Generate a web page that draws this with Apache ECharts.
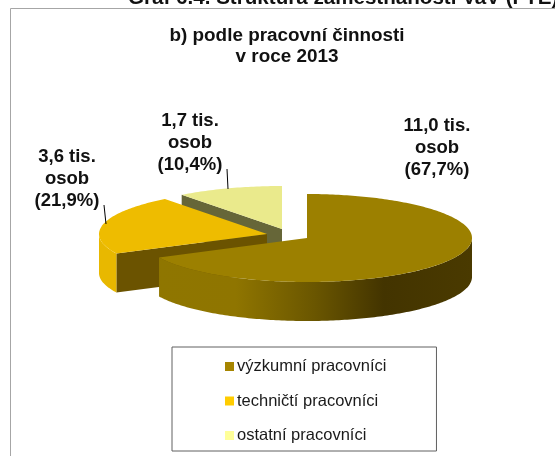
<!DOCTYPE html>
<html>
<head>
<meta charset="utf-8">
<style>
  html, body { margin: 0; padding: 0; background: #fff; overflow: hidden; }
  #main { width: 555px; height: 456px; }
</style>
<script src="https://cdn.jsdelivr.net/npm/echarts@6/dist/echarts.min.js"></script>
</head>
<body>
<div id="main"></div>
<script>
var categories = ['výzkumní pracovníci', 'techničtí pracovníci', 'ostatní pracovníci'];
var thousands = ['11,0', '3,6', '1,7'];
var shares = [67.7, 21.9, 10.4];
var shareLabels = ['67,7%', '21,9%', '10,4%'];

var legendColors = ['#a68500', '#ffcc00', '#ffff99'];
var topColors = ['#9c8000', '#eebc00', '#eaea8c'];
var cutColors = [null, '#6b5300', '#666638'];

// pie geometry, one exploded centre per slice
var centers = [[307, 238], [267, 234], [282, 229]];
var radii = [[165, 44], [168, 44], [165, 43]];
var depth = 39;
var labelPos = [[437, 148], [67, 179], [190, 143]];
var leaders = [null, [[104, 205], [106, 224]], [[227, 169], [228, 189]]];

var font = 'Liberation Sans';

function pointAt(i, deg, dy) {
    var t = deg / 180 * Math.PI;
    return [
        centers[i][0] + radii[i][0] * Math.sin(t),
        centers[i][1] - radii[i][1] * Math.cos(t) + (dy || 0)
    ];
}

function sliceAngles(i) {
    var before = 0;
    for (var k = 0; k < i; k++) before += shares[k];
    return [before * 3.6, (before + shares[i]) * 3.6];
}

function arc(i, from, to, dy) {
    var pts = [];
    var n = Math.max(2, Math.ceil(Math.abs(to - from)));
    for (var k = 0; k <= n; k++) pts.push(pointAt(i, from + (to - from) * k / n, dy));
    return pts;
}

function wallFill(i) {
    if (i === 0) {
        return new echarts.graphic.LinearGradient(157, 0, 472, 0, [
            { offset: 0, color: '#8f7600' },
            { offset: 0.25, color: '#8f7500' },
            { offset: 0.5, color: '#6a5600' },
            { offset: 0.72, color: '#433400' },
            { offset: 1, color: '#4a3a00' }
        ], true);
    }
    return '#e8b800';
}

function renderSlice(params, api) {
    var i = api.value(0);
    var a = sliceAngles(i);
    var children = [];

    // the cut face is visible only where the slice lies behind its edge
    if (cutColors[i]) {
        var edge = a[0];
        children.push({
            type: 'polygon', silent: true,
            shape: { points: [
                [centers[i][0], centers[i][1]],
                pointAt(i, edge),
                pointAt(i, edge, depth),
                [centers[i][0], centers[i][1] + depth]
            ] },
            style: { fill: cutColors[i] }
        });
    }

    // front outer wall
    var from = Math.max(a[0], 90);
    var to = Math.min(a[1], 270);
    if (to > from) {
        children.push({
            type: 'polygon', silent: true,
            shape: { points: arc(i, from, to, 0).concat(arc(i, to, from, depth)) },
            style: { fill: wallFill(i) }
        });
    }

    // top face
    children.push({
        type: 'polygon', silent: true,
        shape: { points: [centers[i]].concat(arc(i, a[0], a[1], 0)) },
        style: { fill: topColors[i] }
    });

    if (leaders[i]) {
        children.push({
            type: 'line', silent: true,
            shape: { x1: leaders[i][0][0], y1: leaders[i][0][1], x2: leaders[i][1][0], y2: leaders[i][1][1] },
            style: { stroke: '#000', lineWidth: 1 }
        });
    }

    children.push({
        type: 'text', silent: true,
        x: labelPos[i][0], y: labelPos[i][1],
        style: {
            text: thousands[i] + ' tis.\nosob\n(' + shareLabels[i] + ')',
            font: 'bold 18.5px "' + font + '"',
            lineHeight: 22,
            fill: '#111',
            align: 'center',
            verticalAlign: 'middle'
        }
    });

    return { type: 'group', children: children };
}

// slices are painted back to front
var order = [2, 1, 0];
var series = order.map(function (i) {
    return {
        name: categories[i],
        type: 'custom',
        coordinateSystem: 'none',
        silent: true,
        animation: false,
        itemStyle: { color: legendColors[i] },
        data: [[i, shares[i]]],
        renderItem: renderSlice
    };
});

var myChart = echarts.init(document.getElementById('main'), null, { renderer: 'canvas' });
myChart.setOption({
    backgroundColor: '#fff',
    animation: false,
    title: [{
        text: 'b) podle pracovní činnosti\nv roce 2013',
        left: 282,
        top: 20,
        textAlign: 'center',
        textStyle: { fontFamily: font, fontSize: 18.9, fontWeight: 'bold', color: '#111', lineHeight: 21 }
    }, {
        text: 'Graf 6.4. Struktura zaměstnanosti VaV (FTE)',
        left: 123,
        top: -17,
        textStyle: { fontFamily: font, fontSize: 20.6, fontWeight: 'bold', color: '#111' }
    }],
    legend: {
        data: categories,
        orient: 'vertical',
        left: 172,
        top: 347,
        padding: [11, 50, 7, 53],
        itemWidth: 9,
        itemHeight: 9,
        itemGap: 17.5,
        icon: 'rect',
        borderColor: '#606060',
        borderWidth: 1,
        selectedMode: false,
        textStyle: { fontFamily: font, fontSize: 16.5, color: '#1a1a1a', padding: [0, 0, 0, -2] }
    },
    graphic: [{
        type: 'polyline',
        silent: true,
        shape: { points: [[10.5, 456], [10.5, 8.5], [555, 8.5]] },
        style: { stroke: '#a6a6a6', lineWidth: 1, fill: null }
    }],
    series: series
});
</script>
</body>
</html>
